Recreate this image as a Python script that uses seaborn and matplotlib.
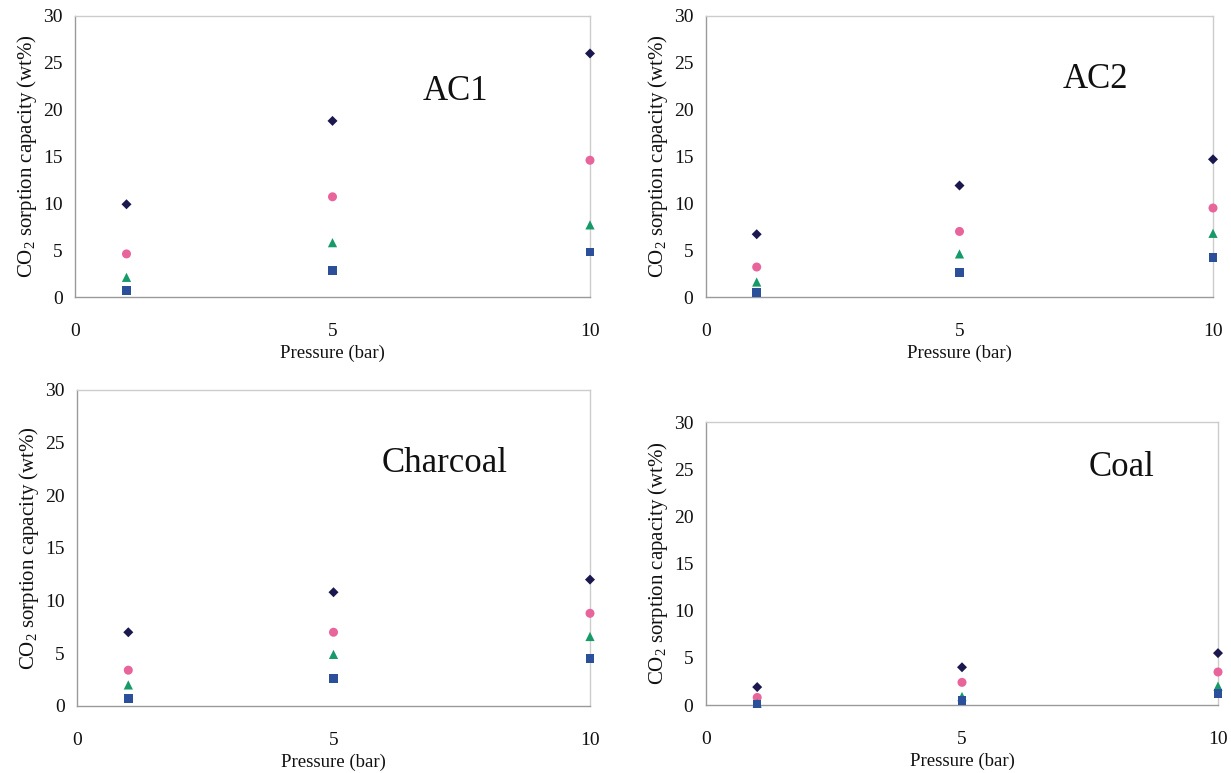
import matplotlib
matplotlib.use('Agg')
import matplotlib.pyplot as plt
import pandas as pd
import seaborn as sns

pressure = [1, 5, 10]
series = ['s1', 's2', 's3', 's4']

# CO2 uptake, one list per marker series (top to bottom)
ac1 = {'s1': [9.9, 18.8, 26.0], 's2': [4.6, 10.7, 14.6], 's3': [2.1, 5.8, 7.7], 's4': [0.7, 2.8, 4.8]}
ac2 = {'s1': [6.7, 11.9, 14.7], 's2': [3.2, 7.0, 9.5], 's3': [1.6, 4.6, 6.8], 's4': [0.5, 2.6, 4.2]}
charcoal = {'s1': [7.0, 10.8, 12.0], 's2': [3.4, 7.0, 8.8], 's3': [2.0, 4.9, 6.6], 's4': [0.7, 2.6, 4.5]}
coal = {'s1': [1.9, 4.0, 5.5], 's2': [0.8, 2.4, 3.5], 's3': [0.2, 0.9, 2.0], 's4': [0.1, 0.5, 1.2]}

panels = ['AC1', 'AC2', 'Charcoal', 'Coal']
panel_data = [ac1, ac2, charcoal, coal]
y_ticks = [0, 5, 10, 15, 20, 25, 30]
x_ticks = [0, 5, 10]

palette = {'s1': '#1b1850', 's2': '#e8649a', 's3': '#179a6a', 's4': '#2c4f9a'}
markers = {'s1': 'D', 's2': 'o', 's3': '^', 's4': 's'}
sizes = {'s1': 26, 's2': 42, 's3': 44, 's4': 38}

sns.set_style('white')
plt.rcParams['font.family'] = ['Liberation Serif', 'DejaVu Serif']
plt.rcParams['text.color'] = '#111111'
plt.rcParams['axes.labelcolor'] = '#111111'
plt.rcParams['xtick.labelcolor'] = '#111111'
plt.rcParams['ytick.labelcolor'] = '#111111'

fig = plt.figure(figsize=(12.31, 7.73), dpi=100)
W, H = 1231, 773
# pixel boxes: left, right, top, bottom
boxes = [(75, 590, 16, 297), (706, 1213, 16, 297),
         (77, 590, 390, 706), (706, 1218, 422, 705)]
label_pos = [(455, 92), (1095, 80), (445, 463), (1122, 467)]

for name, data, box, lpos in zip(panels, panel_data, boxes, label_pos):
    l, r, t, b = box
    ax = fig.add_axes([l / W, 1 - b / H, (r - l) / W, (b - t) / H])
    rows = []
    for s in series:
        for p, v in zip(pressure, data[s]):
            rows.append({'pressure': p, 'capacity': v, 'series': s})
    df = pd.DataFrame(rows)
    for s in series:
        sub = df[df['series'] == s]
        sns.scatterplot(data=sub, x='pressure', y='capacity', color=palette[s],
                        marker=markers[s], s=sizes[s], edgecolor='none',
                        legend=False, ax=ax, clip_on=False, zorder=3)
    ax.set_xlim(0, 10)
    ax.set_ylim(0, 30)
    ax.set_xticks(x_ticks)
    ax.set_yticks(y_ticks)
    ax.tick_params(axis='x', direction='inout', length=6, width=0.8, color='#999999',
                   pad=16, labelsize=14)
    ax.tick_params(axis='y', direction='out', length=4, width=0.8, color='#999999',
                   pad=5, labelsize=14)
    for side in ['left', 'bottom']:
        ax.spines[side].set_color('#9a9a9a')
        ax.spines[side].set_linewidth(1.0)
    for side in ['top', 'right']:
        ax.spines[side].set_color('#cccccc')
        ax.spines[side].set_linewidth(1.0)
    ax.set_xlabel('Pressure (bar)', fontsize=13.5, labelpad=3)
    ax.set_ylabel(r'CO$_\mathregular{2}$ sorption capacity (wt%)', fontsize=15, labelpad=3)
    fig.text(lpos[0] / W, 1 - lpos[1] / H, name, fontsize=25, ha='center', va='center')

fig.savefig('out.png', dpi=100)
